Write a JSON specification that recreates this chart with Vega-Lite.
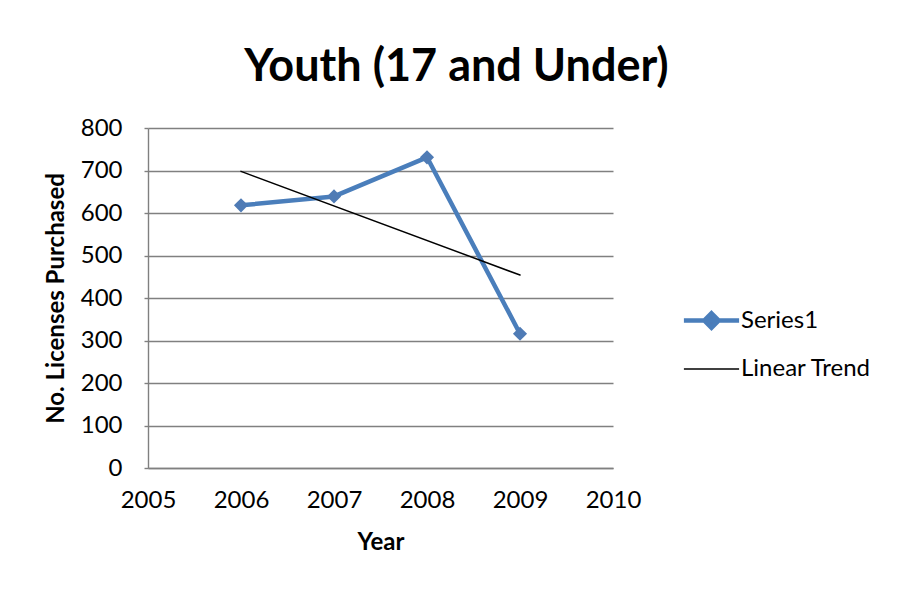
{
  "$schema": "https://vega.github.io/schema/vega-lite/v6.json",
  "width": 465,
  "height": 340,
  "autosize": {"type": "none"},
  "padding": {"left": 148, "top": 128, "right": 291, "bottom": 121},
  "background": "white",
  "title": {
    "text": "Youth (17 and Under)",
    "font": "Lato",
    "fontSize": 45,
    "fontWeight": "bold",
    "color": "#000000",
    "anchor": "middle",
    "dx": 76,
    "offset": 26
  },
  "data": {
    "values": [
      {"year": 2006, "licenses": 618, "series": "Series1"},
      {"year": 2007, "licenses": 639, "series": "Series1"},
      {"year": 2008, "licenses": 731, "series": "Series1"},
      {"year": 2009, "licenses": 316, "series": "Series1"},
      {"year": 2006, "licenses": 698, "series": "Linear Trend"},
      {"year": 2009, "licenses": 454, "series": "Linear Trend"}
    ]
  },
  "encoding": {
    "x": {
      "field": "year",
      "type": "quantitative",
      "scale": {"domain": [2005, 2010], "nice": false, "zero": false},
      "axis": {
        "title": "Year",
        "values": [2005, 2006, 2007, 2008, 2009, 2010],
        "format": "d",
        "grid": false,
        "ticks": false,
        "labelFlush": false,
        "labelOverlap": false,
        "labelBound": false,
        "labelPadding": 20,
        "titlePadding": 18
      }
    },
    "y": {
      "field": "licenses",
      "type": "quantitative",
      "scale": {"domain": [0, 800], "nice": false},
      "axis": {
        "title": "No. Licenses Purchased",
        "values": [0, 100, 200, 300, 400, 500, 600, 700, 800],
        "grid": true,
        "ticks": true,
        "tickSize": 4,
        "labelFlush": false,
        "labelOverlap": false,
        "labelPadding": 22,
        "titlePadding": 12
      }
    }
  },
  "layer": [
    {
      "mark": {"type": "line", "strokeCap": "round", "strokeJoin": "round"},
      "encoding": {
        "color": {
          "field": "series",
          "type": "nominal",
          "scale": {"domain": ["Series1", "Linear Trend"], "range": ["#4a7ebb", "#000000"]},
          "legend": {
            "title": null,
            "orient": "none",
            "legendX": 537,
            "legendY": 166,
            "padding": 0,
            "rowPadding": 7,
            "symbolSize": 2304,
            "labelOffset": 3,
            "labelFont": "Lato",
            "labelFontSize": 24,
            "labelColor": "#000000",
            "encode": {
              "symbols": {
                "update": {
                  "shape": {"signal": "datum.value === 'Series1' ? 'M-1.15,0H1.15M0,-0.3L0.3,0L0,0.3L-0.3,0Z' : 'M-1.15,0H1.15'"},
                  "strokeWidth": {"signal": "datum.value === 'Series1' ? 4 : 1.5"},
                  "fill": {"signal": "datum.value === 'Series1' ? '#4f7bb5' : 'transparent'"},
                  "stroke": {"signal": "datum.value === 'Series1' ? '#4a7ebb' : '#000000'"}
                }
              }
            }
          }
        },
        "strokeWidth": {
          "field": "series",
          "type": "nominal",
          "scale": {"domain": ["Series1", "Linear Trend"], "range": [4.5, 1.5]},
          "legend": null
        }
      }
    },
    {
      "transform": [{"filter": "datum.series === 'Series1'"}],
      "mark": {"type": "point", "shape": "diamond", "filled": true, "size": 200, "color": "#4f7bb5", "opacity": 1}
    }
  ],
  "config": {
    "font": "Lato",
    "view": {"stroke": null},
    "axis": {
      "labelFont": "Lato",
      "labelFontSize": 24,
      "labelColor": "#000000",
      "titleFont": "Lato",
      "titleFontSize": 24,
      "titleFontWeight": "bold",
      "titleColor": "#000000",
      "domainColor": "#808080",
      "domainWidth": 1.4,
      "gridColor": "#808080",
      "gridWidth": 1.4,
      "gridOpacity": 1,
      "tickColor": "#808080",
      "tickWidth": 1.4
    }
  }
}
